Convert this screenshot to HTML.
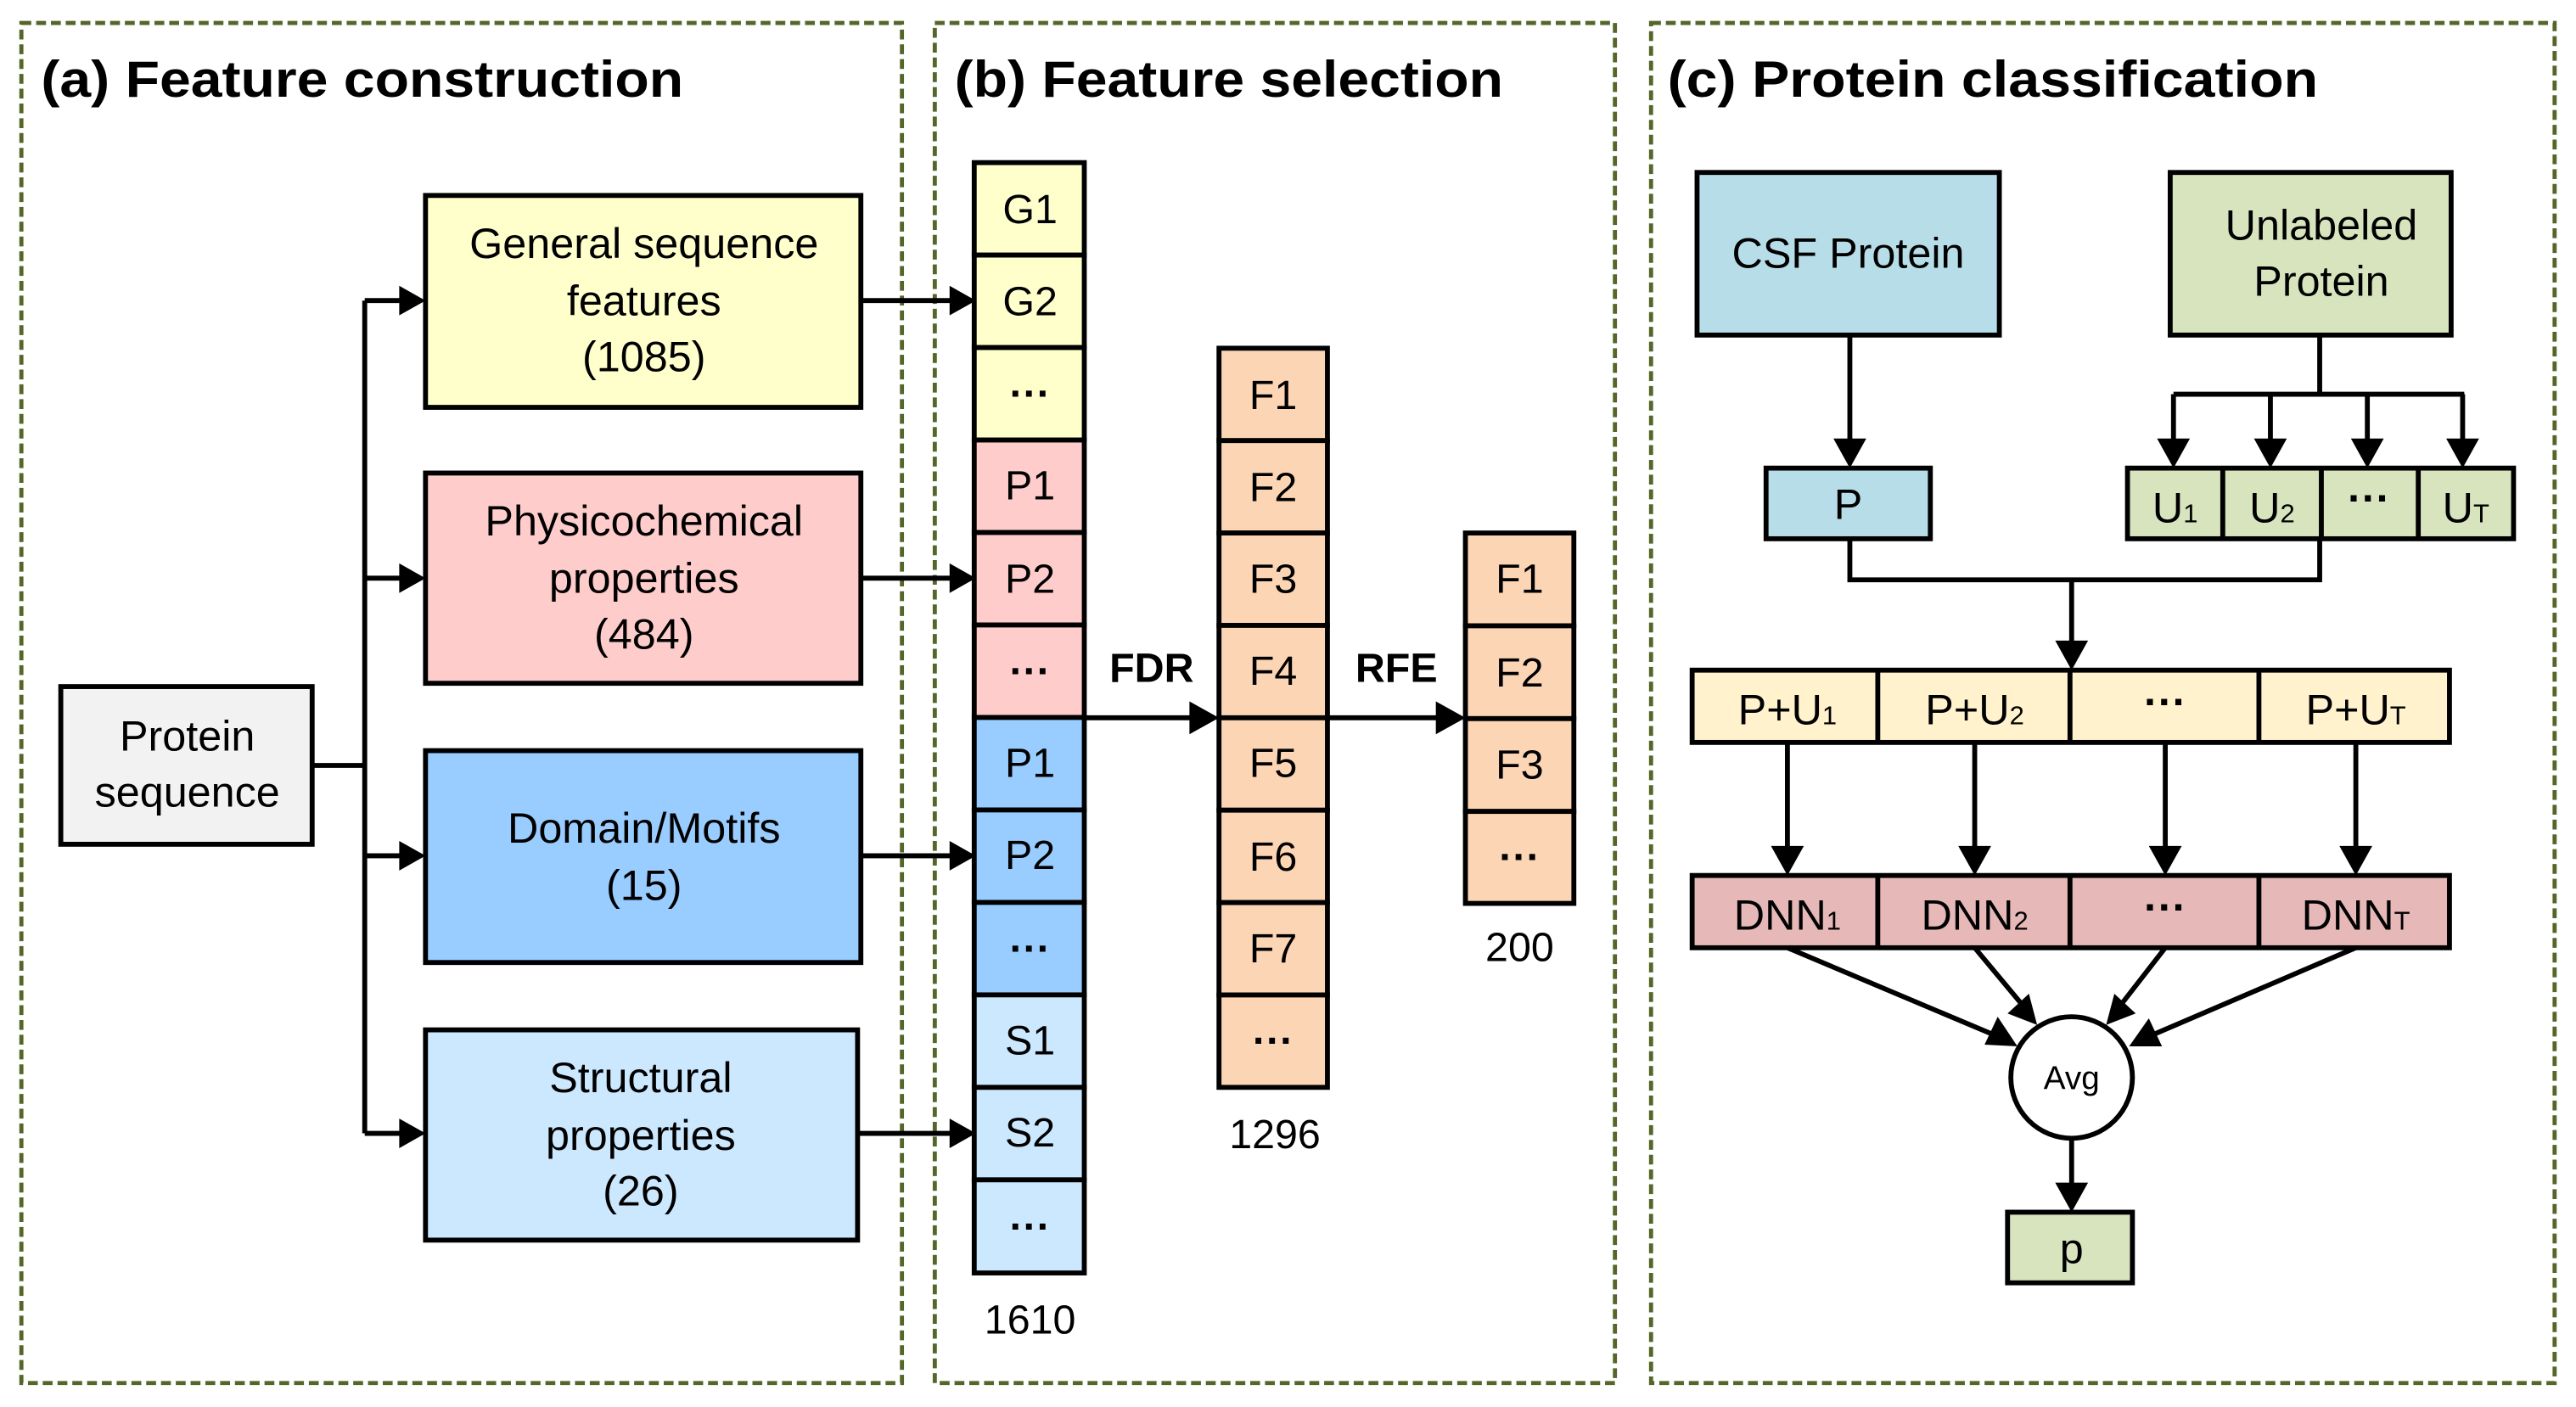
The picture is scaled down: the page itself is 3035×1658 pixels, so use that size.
<!DOCTYPE html>
<html><head><meta charset="utf-8"><style>
html,body{margin:0;padding:0;background:#fff;}
svg{display:block;}
text{font-family:"Liberation Sans",Arial,sans-serif;fill:#000;}
.d{font-weight:bold;}
</style></head><body>
<svg width="3035" height="1658" viewBox="0 0 1568 856.6" xmlns="http://www.w3.org/2000/svg">
<rect width="1568" height="857" fill="#fff"/>
<g fill="none" stroke="#556629" stroke-width="2.5" stroke-dasharray="6,3">
<rect x="13" y="14" width="536" height="828"/>
<rect x="569" y="14" width="414" height="828"/>
<rect x="1005" y="14" width="550" height="828"/>
</g>
<g font-weight="bold" font-size="31">
<text x="25" y="59" textLength="391" lengthAdjust="spacingAndGlyphs">(a) Feature construction</text>
<text x="581" y="59" textLength="334" lengthAdjust="spacingAndGlyphs">(b) Feature selection</text>
<text x="1015" y="59" textLength="396" lengthAdjust="spacingAndGlyphs">(c) Protein classification</text>
</g>

<g stroke="#000" stroke-width="3">
<rect x="37" y="418" width="153" height="96" fill="#f2f2f2"/>
<rect x="259" y="119" width="265" height="129" fill="#ffffcc"/>
<rect x="259" y="288" width="265" height="128" fill="#ffcccc"/>
<rect x="259" y="457" width="265" height="129" fill="#99ccff"/>
<rect x="259" y="627" width="263" height="128" fill="#cce8ff"/>
<path d="M190 466H222M222 183V690M222 183H245M222 352H245M222 521H245M222 690H245" fill="none"/>
<path d="M524 183H580M524 352H580M524 521H580M522 690H580" fill="none"/>
</g>
<g fill="#000">
<path d="M259 183l-16 -9v18z"/><path d="M259 352l-16 -9v18z"/><path d="M259 521l-16 -9v18z"/><path d="M259 690l-16 -9v18z"/>
<path d="M594 183l-16 -9v18z"/><path d="M594 352l-16 -9v18z"/><path d="M594 521l-16 -9v18z"/><path d="M594 690l-16 -9v18z"/>
</g>
<g font-size="26" text-anchor="middle">
<text x="114" y="457">Protein</text><text x="114" y="491">sequence</text>
<text x="392" y="157">General sequence</text><text x="392" y="192">features</text><text x="392" y="226">(1085)</text>
<text x="392" y="326">Physicochemical</text><text x="392" y="361">properties</text><text x="392" y="395">(484)</text>
<text x="392" y="513">Domain/Motifs</text><text x="392" y="548">(15)</text>
<text x="390" y="665">Structural</text><text x="390" y="700">properties</text><text x="390" y="734">(26)</text>
</g>

<g stroke="#000" stroke-width="3">
<rect x="593" y="99" width="67" height="56.3" fill="#ffffcc"/>
<rect x="593" y="155.3" width="67" height="56.3" fill="#ffffcc"/>
<rect x="593" y="211.6" width="67" height="56.3" fill="#ffffcc"/>
<rect x="593" y="267.9" width="67" height="56.3" fill="#ffcccc"/>
<rect x="593" y="324.2" width="67" height="56.3" fill="#ffcccc"/>
<rect x="593" y="380.5" width="67" height="56.3" fill="#ffcccc"/>
<rect x="593" y="436.8" width="67" height="56.3" fill="#99ccff"/>
<rect x="593" y="493.1" width="67" height="56.3" fill="#99ccff"/>
<rect x="593" y="549.4" width="67" height="56.3" fill="#99ccff"/>
<rect x="593" y="605.7" width="67" height="56.3" fill="#cce8ff"/>
<rect x="593" y="662" width="67" height="56.3" fill="#cce8ff"/>
<rect x="593" y="718.3" width="67" height="56.7" fill="#cce8ff"/>
<g fill="#fcd5b5">
<rect x="742" y="212" width="66" height="56.25"/><rect x="742" y="268.25" width="66" height="56.25"/>
<rect x="742" y="324.5" width="66" height="56.25"/><rect x="742" y="380.75" width="66" height="56.25"/>
<rect x="742" y="437" width="66" height="56.25"/><rect x="742" y="493.25" width="66" height="56.25"/>
<rect x="742" y="549.5" width="66" height="56.25"/><rect x="742" y="605.75" width="66" height="56.25"/>
<rect x="892" y="324.5" width="66" height="56.5"/><rect x="892" y="381" width="66" height="56.5"/>
<rect x="892" y="437.5" width="66" height="56.5"/><rect x="892" y="494" width="66" height="56"/>
</g>
<path d="M660 437H728M808 437H878" fill="none"/>
</g>
<g fill="#000"><path d="M742 437l-18 -10v20z"/><path d="M892 437l-18 -10v20z"/></g>
<g font-size="25" text-anchor="middle">
<text x="627" y="136">G1</text><text x="627" y="192">G2</text><text x="627" y="248" class="d">···</text>
<text x="627" y="304">P1</text><text x="627" y="361">P2</text><text x="627" y="417" class="d">···</text>
<text x="627" y="473">P1</text><text x="627" y="529">P2</text><text x="627" y="586" class="d">···</text>
<text x="627" y="642">S1</text><text x="627" y="698">S2</text><text x="627" y="755" class="d">···</text>
<text x="627" y="812">1610</text>
<text x="775" y="249">F1</text><text x="775" y="305">F2</text><text x="775" y="361">F3</text><text x="775" y="417">F4</text>
<text x="775" y="473">F5</text><text x="775" y="530">F6</text><text x="775" y="586">F7</text><text x="775" y="642" class="d">···</text>
<text x="776" y="699">1296</text>
<text x="925" y="361">F1</text><text x="925" y="418">F2</text><text x="925" y="474">F3</text><text x="925" y="530" class="d">···</text>
<text x="925" y="585">200</text>
</g>
<g font-size="25" font-weight="bold" text-anchor="middle">
<text x="701" y="415">FDR</text><text x="850" y="415">RFE</text>
</g>

<g stroke="#000" stroke-width="3">
<rect x="1033" y="105" width="184" height="99" fill="#b7dde8"/>
<rect x="1321" y="105" width="171" height="99" fill="#d7e4bd"/>
<rect x="1075" y="285" width="100" height="43" fill="#b7dde8"/>
<rect x="1295" y="285" width="235" height="43" fill="#d7e4bd"/>
<path d="M1353 285V328M1413 285V328M1472 285V328" fill="none"/>
<rect x="1030" y="408" width="461" height="44" fill="#fff2cc"/>
<path d="M1143 408V452M1260 408V452M1375 408V452" fill="none"/>
<rect x="1030" y="533" width="461" height="44" fill="#e6b8b7"/>
<path d="M1143 533V577M1260 533V577M1375 533V577" fill="none"/>
<circle cx="1261" cy="656" r="37" fill="#fff"/>
<rect x="1222" y="738" width="76" height="43" fill="#d7e4bd"/>
<path d="M1126 204V272M1412 204V240M1323 240H1500M1323 240V272M1382 240V272M1441 240V272M1499 240V272" fill="none"/>
<path d="M1126 328V353H1412V328M1261 353V395" fill="none"/>
<path d="M1088 452V520M1202 452V520M1318 452V520M1434 452V520" fill="none"/>
<path d="M1088 577L1216 631M1202 577L1232 613M1318 577L1290 613M1434 577L1308 631M1261 693V725" fill="none"/>
</g>
<g fill="#000">
<path d="M1126 285l-10 -18h20z"/>
<path d="M1323 285l-10 -18h20z"/><path d="M1382 285l-10 -18h20z"/><path d="M1441 285l-10 -18h20z"/><path d="M1499 285l-10 -18h20z"/>
<path d="M1261 408l-10 -18h20z"/>
<path d="M1088 533l-10 -18h20z"/><path d="M1202 533l-10 -18h20z"/><path d="M1318 533l-10 -18h20z"/><path d="M1434 533l-10 -18h20z"/>
<path d="M1261 738l-10 -18h20z"/>
<path d="M1228 637l-20 -1 8 -17z"/>
<path d="M1240 624l-18 -7 13 -12z"/>
<path d="M1282 624l5 -19 13 12z"/>
<path d="M1296 637l12 -17 8 17z"/>
</g>
<g font-size="26" text-anchor="middle">
<text x="1125" y="163">CSF Protein</text>
<text x="1413" y="146">Unlabeled</text><text x="1413" y="180">Protein</text>
<text x="1125" y="316">P</text>
<text x="1324" y="318">U<tspan font-size="16">1</tspan></text>
<text x="1383" y="318">U<tspan font-size="16">2</tspan></text>
<text x="1442" y="312" class="d">···</text>
<text x="1501" y="318">U<tspan font-size="16">T</tspan></text>
<text x="1088" y="441">P+U<tspan font-size="16">1</tspan></text>
<text x="1202" y="441">P+U<tspan font-size="16">2</tspan></text>
<text x="1318" y="436" class="d">···</text>
<text x="1434" y="441">P+U<tspan font-size="16">T</tspan></text>
<text x="1088" y="566">DNN<tspan font-size="16">1</tspan></text>
<text x="1202" y="566">DNN<tspan font-size="16">2</tspan></text>
<text x="1318" y="561" class="d">···</text>
<text x="1434" y="566">DNN<tspan font-size="16">T</tspan></text>
<text x="1261" y="769">p</text>
</g>
<text x="1261" y="663" font-size="20" text-anchor="middle">Avg</text>
</svg>
</body></html>
